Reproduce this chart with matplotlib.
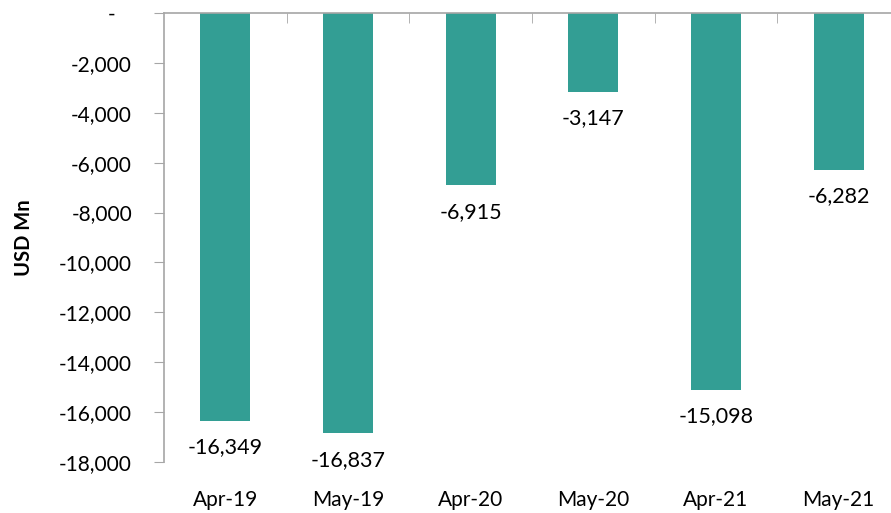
import matplotlib.pyplot as plt
from matplotlib.ticker import FuncFormatter, FixedLocator

months = ["Apr-19", "May-19", "Apr-20", "May-20", "Apr-21", "May-21"]
balance = [-16349, -16837, -6915, -3147, -15098, -6282]

BAR = "#339e94"
GREY = "#a6a6a6"

plt.rcParams["font.family"] = ["Lato", "DejaVu Sans"]

fig = plt.figure(figsize=(8.91, 5.13), dpi=100)
ax = fig.add_axes([164 / 891, (513 - 462) / 513, 736 / 891, 449 / 513])

x = list(range(len(months)))
ax.bar(x, balance, width=0.41, color=BAR, zorder=2)

for xi, v in zip(x, balance):
    ax.annotate(f"{v:,}", (xi, v), xytext=(0, -12), textcoords="offset points",
                ha="center", va="top", fontsize=15.5)

ax.set_xlim(-0.5, len(months) - 0.5)
ax.set_ylim(-18000, 0)


def fmt(v, pos):
    # accounting style: zero shows as a dash
    return "-   " if v == 0 else f"{int(v):,}"


ax.yaxis.set_major_locator(FixedLocator(range(-18000, 1, 2000)))
ax.yaxis.set_major_formatter(FuncFormatter(fmt))
ax.tick_params(axis="y", direction="out", length=7, color=GREY, labelsize=15, pad=16)

# category labels sit under the plot, tick marks sit on the zero line
ax.set_xticks(x)
ax.set_xticklabels(months)
ax.set_xticks([i + 0.5 for i in x[:-1]], minor=True)
ax.tick_params(axis="x", which="major", length=0, labelsize=15, pad=20)
ax.tick_params(axis="x", which="minor", top=True, bottom=False, direction="in",
               length=7, color=GREY)

for side in ("right", "bottom"):
    ax.spines[side].set_visible(False)
for side in ("left", "top"):
    ax.spines[side].set_color(GREY)
    ax.spines[side].set_linewidth(1.2)

ax.set_ylabel("USD Mn", fontsize=14.5, fontweight="bold", labelpad=18)

fig.savefig("out.png", dpi=100)
